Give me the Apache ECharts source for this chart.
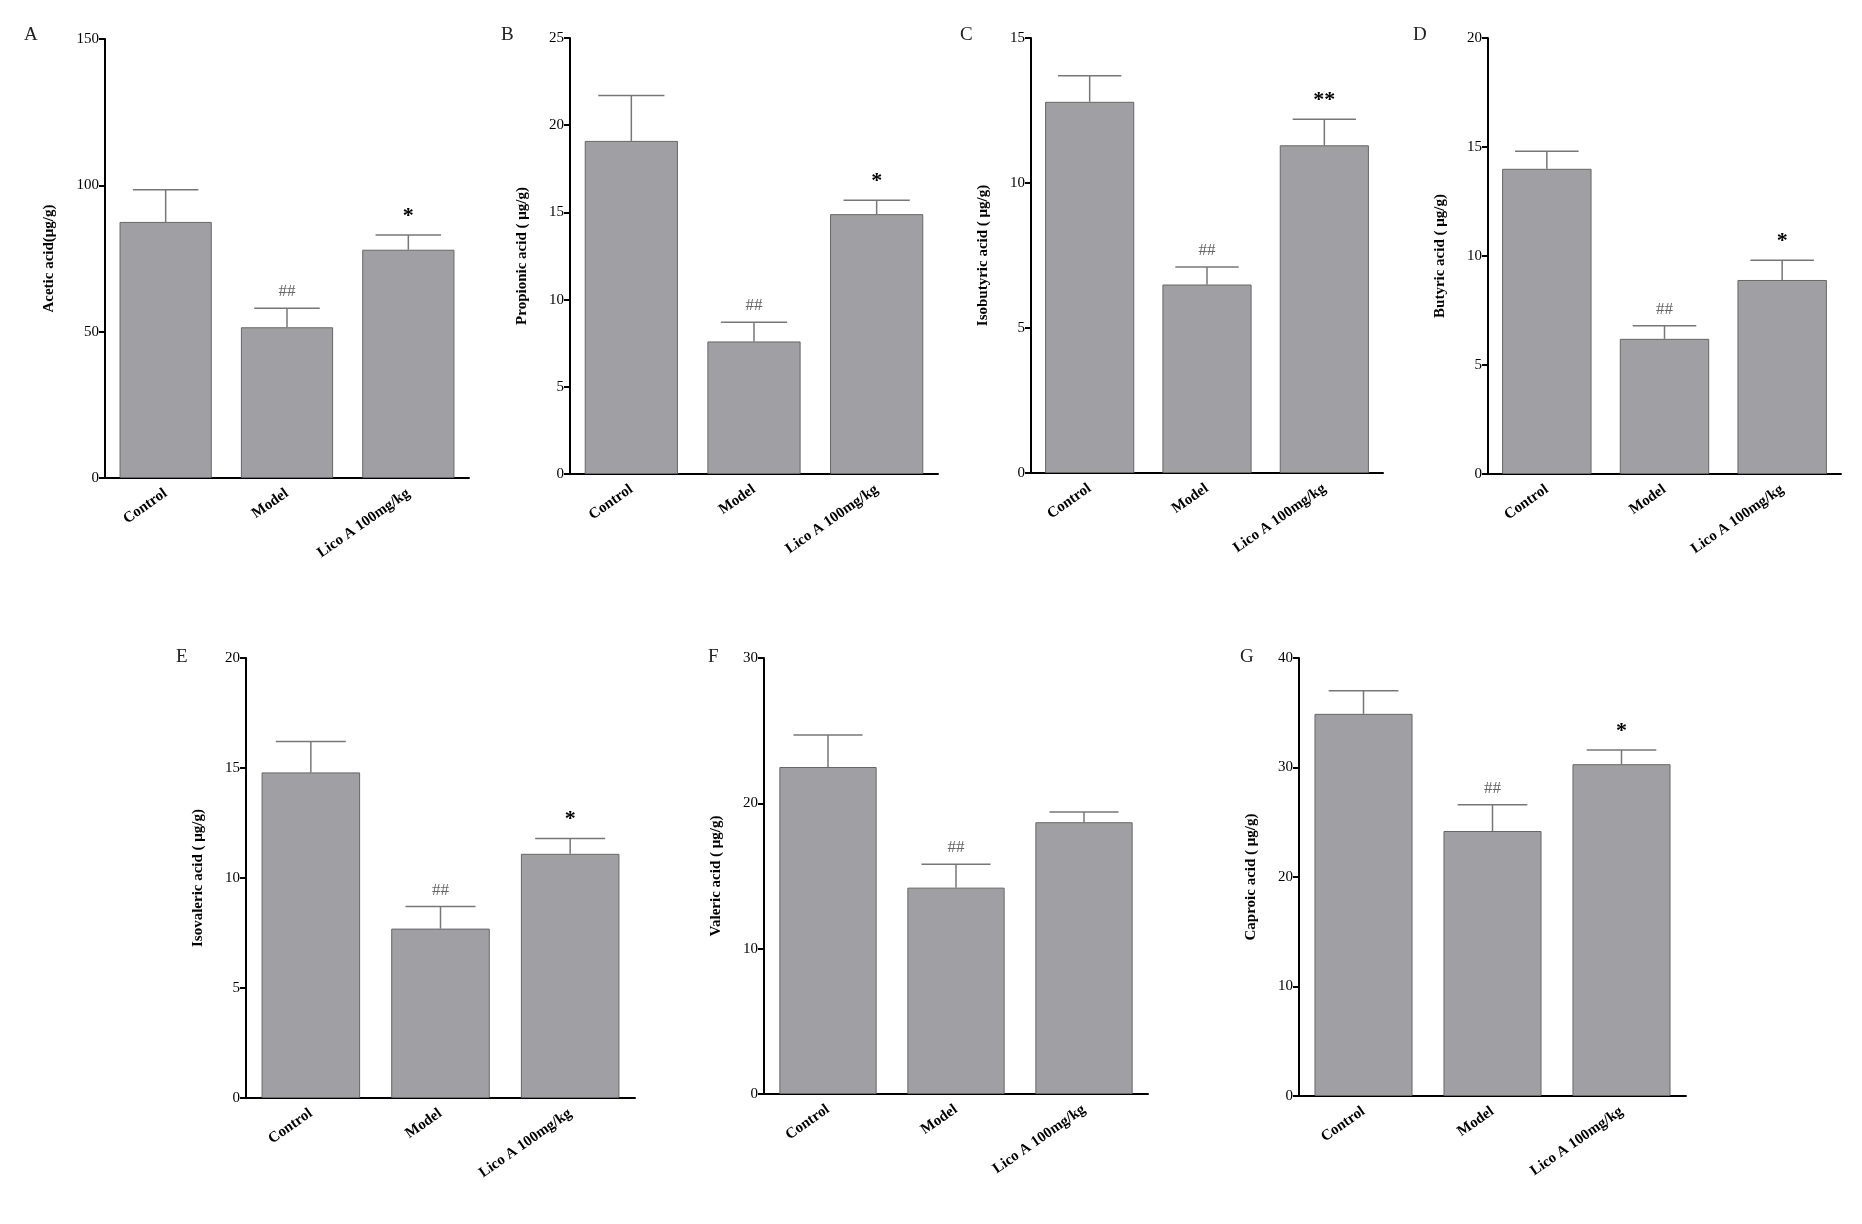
<!DOCTYPE html>
<html><head><meta charset="utf-8">
<script src="https://cdn.jsdelivr.net/npm/echarts@6/dist/echarts.min.js"></script>
<style>html,body{margin:0;background:#fff}#c{width:1862px;height:1224px}</style>
</head><body><div id="c"></div>
<script>
const groups = ['Control', 'Model', 'Lico A 100mg/kg'];
const letters = ['A', 'B', 'C', 'D', 'E', 'F', 'G'];
const yNames = ['Acetic acid(μg/g)', 'Propionic acid ( μg/g)', 'Isobutyric acid ( μg/g)', 'Butyric acid ( μg/g)',
  'Isovaleric acid ( μg/g)', 'Valeric acid ( μg/g)', 'Caproic acid ( μg/g)'];
const yMax = [150, 25, 15, 20, 20, 30, 40];
const yStep = [50, 5, 5, 5, 5, 10, 10];
const means = [[87.5, 51.5, 78], [19.1, 7.6, 14.9], [12.8, 6.5, 11.3], [14.0, 6.2, 8.9],
  [14.8, 7.7, 11.1], [22.5, 14.2, 18.7], [34.9, 24.2, 30.3]];
const errTops = [[98.5, 58, 83], [21.7, 8.7, 15.7], [13.7, 7.1, 12.2], [14.8, 6.8, 9.8],
  [16.2, 8.7, 11.8], [24.7, 15.8, 19.4], [37.0, 26.6, 31.6]];
const marks = [['', '##', '*'], ['', '##', '*'], ['', '##', '**'], ['', '##', '*'],
  ['', '##', '*'], ['', '##', ''], ['', '##', '*']];

// panel boxes: left, top, right, bottom (pixels)
const boxes = [[105, 39, 469, 478], [570, 38, 938, 474], [1031, 38, 1383, 473], [1488, 38, 1841, 474],
  [246, 658, 635, 1098], [764, 658, 1148, 1094], [1299, 658, 1686, 1096]];
const letterPos = [[24, 26], [501, 26], [960, 26], [1413, 26], [176, 648], [708, 648], [1240, 648]];

const font = '"Liberation Serif", "DejaVu Serif", serif';
let grid = [], xAxis = [], yAxis = [], series = [], graphic = [];

boxes.forEach(function (b, i) {
  grid.push({left: b[0], top: b[1], width: b[2] - b[0], height: b[3] - b[1]});
  xAxis.push({
    type: 'category', gridIndex: i, data: groups,
    axisLine: {lineStyle: {color: '#000', width: 2}},
    axisTick: {alignWithLabel: true, length: 7, lineStyle: {color: '#000', width: 2}},
    axisLabel: {rotate: 35, fontFamily: font, fontWeight: 'bold', fontSize: 15, color: '#000', margin: 14}
  });
  yAxis.push({
    type: 'value', gridIndex: i, min: 0, max: yMax[i], interval: yStep[i],
    name: yNames[i], nameLocation: 'middle', nameGap: i === 0 ? 48 : 40,
    nameTextStyle: {fontFamily: font, fontWeight: 'bold', fontSize: 15, color: '#000'},
    splitLine: {show: false},
    axisLine: {show: true, lineStyle: {color: '#000', width: 2}},
    axisTick: {show: true, length: 6, lineStyle: {color: '#000', width: 2}},
    axisLabel: {fontFamily: font, fontSize: 15, color: '#000', margin: 6}
  });
  series.push({
    type: 'bar', xAxisIndex: i, yAxisIndex: i, data: means[i], barCategoryGap: '24%',
    itemStyle: {color: '#a0a0a4', borderColor: '#666', borderWidth: 1}
  });
  series.push({
    type: 'custom', xAxisIndex: i, yAxisIndex: i,
    data: means[i].map(function (m, k) { return [k, m, errTops[i][k], marks[i][k]]; }),
    renderItem: function (params, api) {
      const p0 = api.coord([api.value(0), api.value(1)]);
      const p1 = api.coord([api.value(0), api.value(2)]);
      const hw = api.size([1, 0])[0] * 0.27;
      const st = {stroke: '#777', lineWidth: 1.5};
      const mk = marks[i][api.value(0)];
      return {type: 'group', children: [
        {type: 'line', shape: {x1: p0[0], y1: p0[1], x2: p1[0], y2: p1[1]}, style: st},
        {type: 'line', shape: {x1: p1[0] - hw, y1: p1[1], x2: p1[0] + hw, y2: p1[1]}, style: st},
        {type: 'text', x: p1[0], y: p1[1] - 8, style: {
          text: mk, align: 'center', verticalAlign: 'bottom', fontFamily: font,
          fontSize: mk.indexOf('#') >= 0 ? 17 : 22, fontWeight: mk.indexOf('*') >= 0 ? 'bold' : 'normal',
          fill: mk.indexOf('#') >= 0 ? '#666' : '#000'}}
      ]};
    }
  });
  graphic.push({type: 'text', left: letterPos[i][0], top: letterPos[i][1],
    style: {text: letters[i], fontFamily: font, fontSize: 19, fill: '#222'}});
});

const chart = echarts.init(document.getElementById('c'));
chart.setOption({backgroundColor: '#fff', animation: false, grid: grid, xAxis: xAxis, yAxis: yAxis,
  series: series, graphic: graphic});
window.onresize = function () { chart.resize(); };
</script>
</body></html>
